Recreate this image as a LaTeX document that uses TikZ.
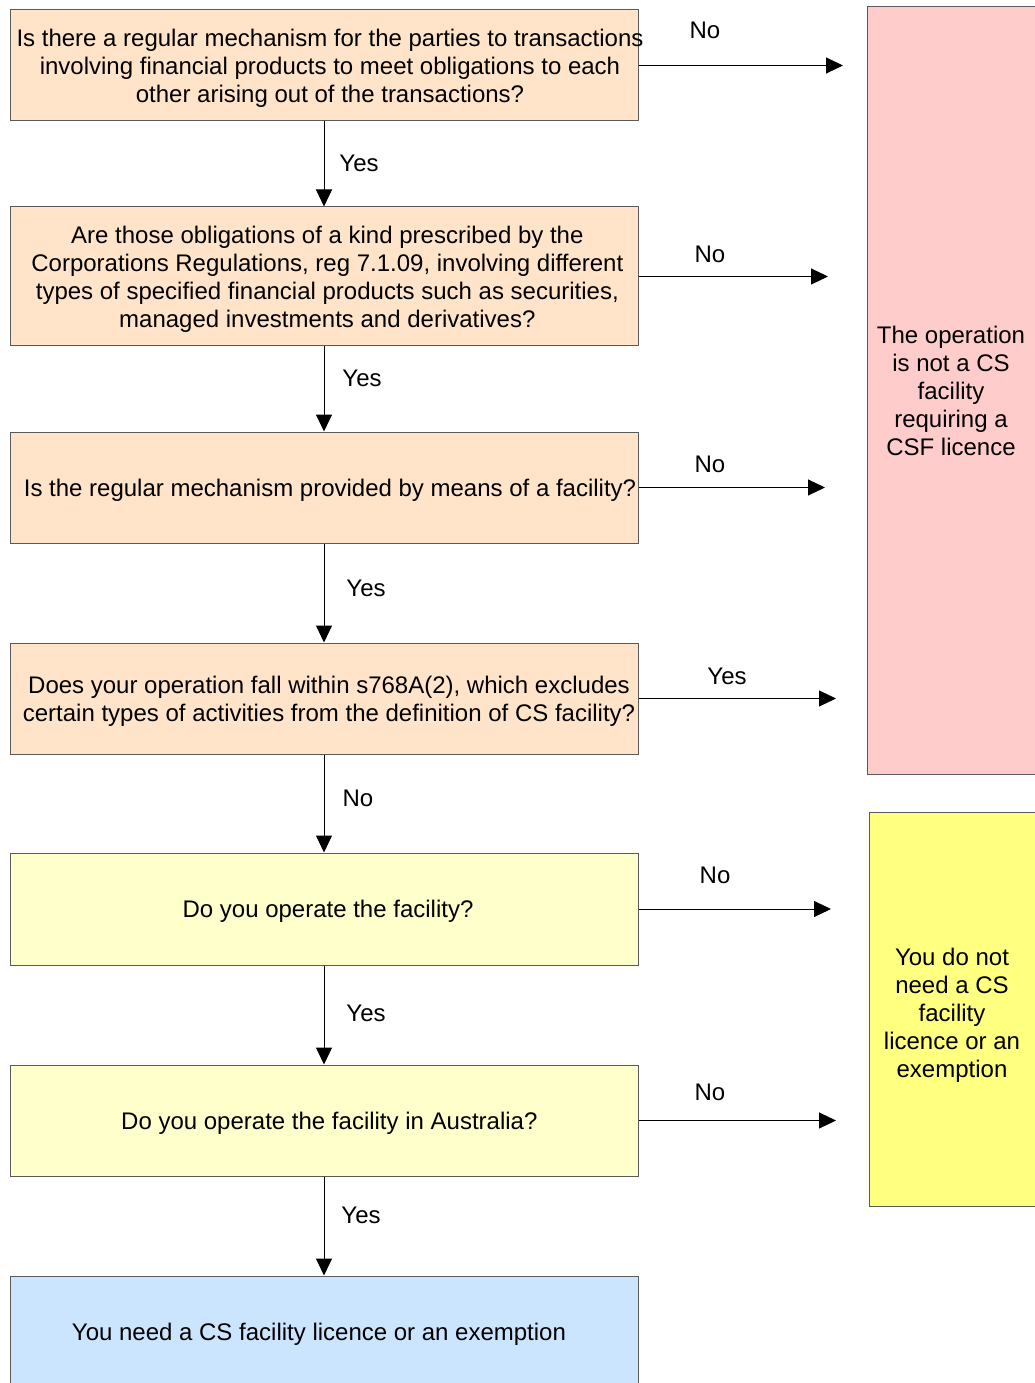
\documentclass[tikz,border=0pt]{standalone}
\usepackage{fontspec}
\setmainfont{Liberation Sans}
\usetikzlibrary{arrows.meta}
\definecolor{peach}{HTML}{FFE4C9}
\definecolor{paleyel}{HTML}{FFFFCC}
\definecolor{paleblue}{HTML}{CCE5FF}
\definecolor{pink}{HTML}{FFCCCC}
\definecolor{brightyel}{HTML}{FFFF80}
\definecolor{boxline}{HTML}{5A5A5A}
% shifted, centred block of lines: #1 = right shift, #2 = raise, #3 = lines
\newcommand\shtxt[3]{\raisebox{#2}[\height][\depth]{\kern#1\begin{tabular}{@{}c@{}}#3\end{tabular}\kern-#1}}
\begin{document}
\begin{tikzpicture}[x=0.75pt,y=-0.75pt,
  box/.style={draw=boxline, line width=0.75pt, inner sep=0pt, align=center,
    font=\fontsize{18}{21}\selectfont, minimum width=471pt},
  side/.style={draw=boxline, line width=0.75pt, inner sep=0pt, align=center,
    font=\fontsize{18}{21}\selectfont},
  arr/.style={-{Triangle[length=12.75pt,width=12pt]}, line width=0.75pt, draw=black},
  lbl/.style={font=\fontsize{18}{21}\selectfont, inner sep=0pt}]
\useasboundingbox (0,0) rectangle (1034,1383);

% right-hand outcome boxes
\node[side, fill=pink, minimum width=126pt, minimum height=575.25pt] (notcs) at (951,390.5)
  {The operation\\is not a CS\\facility\\requiring a\\CSF licence};
\node[side, fill=brightyel, minimum width=124.5pt, minimum height=295.5pt] (noneed) at (952,1009)
  {\shtxt{0pt}{-4.8pt}{You do not\\need a CS\\facility\\licence or an\\exemption}};

% question boxes
\node[box, fill=peach, minimum height=83.25pt] (q1) at (324,65.5)
  {\shtxt{4.5pt}{-2.5pt}{Is there a regular mechanism for the parties to transactions\\involving financial products to meet obligations to each\\other arising out of the transactions?}};
\node[box, fill=peach, minimum height=104.25pt] (q2) at (324,276.5)
  {\shtxt{2.5pt}{-2.5pt}{Are those obligations of a kind prescribed by the\\Corporations Regulations, reg 7.1.09, involving different\\types of specified financial products such as securities,\\managed investments and derivatives?}};
\node[box, fill=peach, minimum height=83.25pt] (q3) at (324,487.5)
  {\shtxt{4.5pt}{-2.5pt}{Is the regular mechanism provided by means of a facility?}};
\node[box, fill=peach, minimum height=83.25pt] (q4) at (324,698.5)
  {\shtxt{3.75pt}{-2.5pt}{Does your operation fall within s768A(2), which excludes\\certain types of activities from the definition of CS facility?}};
\node[box, fill=paleyel, minimum height=84pt] (q5) at (324,909)
  {\shtxt{3pt}{-2.5pt}{Do you operate the facility?}};
\node[box, fill=paleyel, minimum height=83.25pt] (q6) at (324,1120.5)
  {\shtxt{4pt}{-2.5pt}{Do you operate the facility in Australia?}};
\node[box, fill=paleblue, minimum height=84pt] (q7) at (324,1332)
  {\shtxt{-3.75pt}{-1.9pt}{You need a CS facility licence or an exemption}};

% arrow ends
\coordinate (e1) at (843,65.5);
\coordinate (e2) at (828,276.5);
\coordinate (e3) at (825,487.5);
\coordinate (e4) at (836,698.5);
\coordinate (e5) at (831,909);
\coordinate (e6) at (836,1120.5);

\draw[arr] (q1.east) -- (e1);
\draw[arr] (q2.east) -- (e2);
\draw[arr] (q3.east) -- (e3);
\draw[arr] (q4.east) -- (e4);
\draw[arr] (q5.east) -- (e5);
\draw[arr] (q6.east) -- (e6);

\draw[arr] (q1.south) -- (q2.north);
\draw[arr] (q2.south) -- (q3.north);
\draw[arr] (q3.south) -- (q4.north);
\draw[arr] (q4.south) -- (q5.north);
\draw[arr] (q5.south) -- (q6.north);
\draw[arr] (q6.south) -- (q7.north);

% labels
\node[lbl] (n1) at (705,30) {No};
\node[lbl] (n2) at (710,254) {No};
\node[lbl] (n3) at (710,464) {No};
\node[lbl] (n4) at (727,676) {Yes};
\node[lbl] (n5) at (715,875) {No};
\node[lbl] (n6) at (710,1092) {No};

\node[lbl] (y1) at (359,163) {Yes};
\node[lbl] (y2) at (362,378) {Yes};
\node[lbl] (y3) at (366,588) {Yes};
\node[lbl] (y4) at (358,798) {No};
\node[lbl] (y5) at (366,1013) {Yes};
\node[lbl] (y6) at (361,1215) {Yes};
\end{tikzpicture}
\end{document}
